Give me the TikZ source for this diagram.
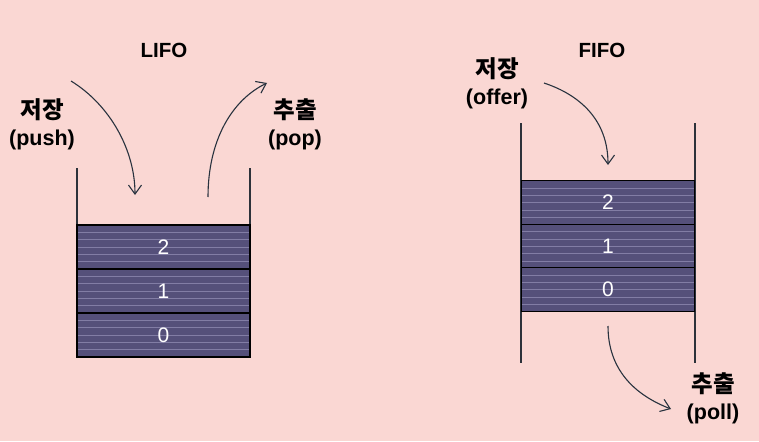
\documentclass[tikz,border=0pt]{standalone}
\usepackage{fontspec}
\setmainfont{Liberation Sans}
\newfontfamily\kr{Noto Sans CJK KR}
\usetikzlibrary{arrows.meta}
\definecolor{bg}{RGB}{250,215,211}
\definecolor{cell}{RGB}{85,80,122}
\definecolor{stripe}{RGB}{130,125,165}
\definecolor{arr}{RGB}{40,50,62}
\definecolor{wall}{RGB}{45,50,58}
\newcommand{\krb}[1]{{\kr\bfseries\fontsize{23.5}{27}\selectfont #1}}
\begin{document}
\begin{tikzpicture}[x=1pt,y=-1pt,
  cellbox/.style={draw=black, line width=1.3pt, fill=cell, minimum width=173pt,
    minimum height=44pt, inner sep=0pt, text=white, font=\fontsize{21}{24}\selectfont,
    path picture={\foreach \k in {1,...,5}{\draw[stripe, line width=0.8pt]
      ([yshift=-\k*7.33pt]path picture bounding box.north west) --
      ([yshift=-\k*7.33pt]path picture bounding box.north east);}}},
  title/.style={font=\bfseries\fontsize{20.5}{24}\selectfont},
  lbl/.style={align=center, font=\bfseries\fontsize{21.5}{27}\selectfont},
  wallline/.style={draw=wall, line width=1.3pt},
  flow/.style={draw=arr, line width=1.1pt, -{Straight Barb[length=9pt,width=13pt]}}]
\fill[bg] (0,0) rectangle (759,441);
\useasboundingbox (0,0) rectangle (759,441);

% LIFO
\node[title] (lifo) at (164,50) {LIFO};
\coordinate (lwl1) at (77,168); \coordinate (lwl2) at (77,226);
\coordinate (lwr1) at (250,168); \coordinate (lwr2) at (250,226);
\draw[wallline] (lwl1) -- (lwl2);
\draw[wallline] (lwr1) -- (lwr2);
\node[cellbox] (l2) at (163.5,247) {2};
\node[cellbox] (l1) at (163.5,291) {1};
\node[cellbox] (l0) at (163.5,335) {0};
\node[lbl] (push) at (42,124) {\krb{저장}\\(push)};
\node[lbl] (pop) at (295,124) {\krb{추출}\\(pop)};
\coordinate (ps) at (71,81); \coordinate (pe) at (135,195);
\coordinate (os) at (208,197); \coordinate (oe) at (267,83);
\draw[flow] (ps) .. controls (110,105) and (135,150) .. (pe);
\draw[flow] (os) .. controls (208,140) and (232,100) .. (oe);

% FIFO
\node[title] (fifo) at (602,50) {FIFO};
\coordinate (fwl1) at (521,123); \coordinate (fwl2) at (521,363);
\coordinate (fwr1) at (695,123); \coordinate (fwr2) at (695,363);
\draw[wallline] (fwl1) -- (fwl2);
\draw[wallline] (fwr1) -- (fwr2);
\node[cellbox, minimum height=43.5pt] (f2) at (608,202.5) {2};
\node[cellbox, minimum height=43.5pt] (f1) at (608,246) {1};
\node[cellbox, minimum height=43.5pt] (f0) at (608,289.5) {0};
\node[lbl] (offer) at (497,83) {\krb{저장}\\(offer)};
\node[lbl] (poll) at (713,398) {\krb{추출}\\(poll)};
\coordinate (is) at (544,83); \coordinate (ie) at (608,165);
\coordinate (qs) at (608,326); \coordinate (qe) at (671,409);
\draw[flow] (is) .. controls (580,95) and (608,120) .. (ie);
\draw[flow] (qs) .. controls (608,370) and (635,395) .. (qe);
\end{tikzpicture}
\end{document}
